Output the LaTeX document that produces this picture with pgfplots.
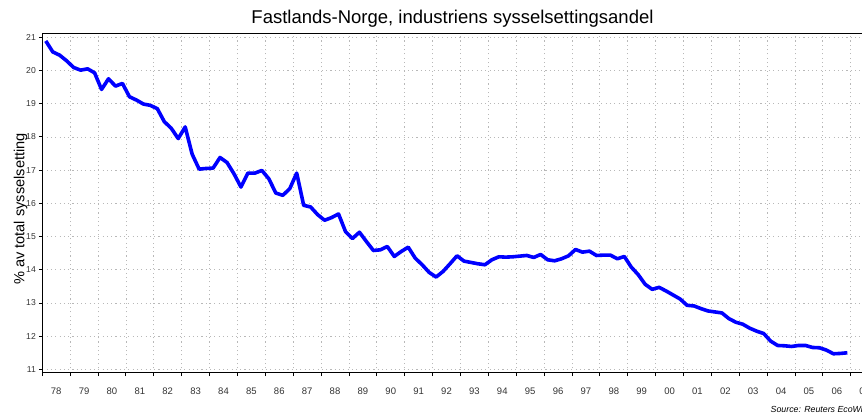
\documentclass[border=0pt]{standalone}
\usepackage{fontspec}
\setmainfont{Liberation Sans}
\usepackage{pgfplots}
\pgfplotsset{compat=1.18}

\definecolor{ticktext}{HTML}{333333}
\definecolor{gridgray}{HTML}{B8B8B8}

\begin{document}
\begin{tikzpicture}[x=1pt,y=1pt]
\begin{axis}[
    at={(42.3pt,41.3pt)}, anchor=south west,
    scale only axis,
    width=837.8pt, height=339.4pt,
    xmin=1978, xmax=2008.05,
    ymin=10.9, ymax=21.12,
    xtick={1978,...,2008},
    x tick label as interval,
    xticklabels={78,79,80,81,82,83,84,85,86,87,88,89,90,91,92,93,94,95,96,97,98,99,00,01,02,03,04,05,06,07},
    ytick={11,...,21},
    xtick pos=bottom, ytick pos=left,
    tick align=outside,
    major tick length=3.5pt,
    every tick/.style={black, line width=0.9pt},
    /pgf/number format/assume math mode=true,
    xticklabel style={font=\fontsize{9.5}{11}\selectfont, text=ticktext, anchor=base, inner sep=0pt, yshift=-18.6pt},
    yticklabel style={font=\fontsize{8.6}{10}\selectfont, text=ticktext, anchor=east, inner sep=0pt, xshift=-2.8pt},
    grid=major,
    major grid style={gridgray, line width=0.8pt, dash pattern=on 1.1pt off 3.2pt},
    axis line style={black, line width=1.3pt},
]
\addplot[color=blue, line width=3.6pt, line join=round] table {
x y
1978.125 20.89
1978.375 20.56
1978.625 20.46
1978.875 20.29
1979.125 20.09
1979.375 20.01
1979.625 20.05
1979.875 19.93
1980.125 19.43
1980.375 19.75
1980.625 19.53
1980.875 19.61
1981.125 19.21
1981.375 19.11
1981.625 18.99
1981.875 18.95
1982.125 18.85
1982.375 18.46
1982.625 18.26
1982.875 17.95
1983.125 18.30
1983.375 17.48
1983.625 17.03
1983.875 17.05
1984.125 17.06
1984.375 17.38
1984.625 17.23
1984.875 16.89
1985.125 16.49
1985.375 16.91
1985.625 16.91
1985.875 16.99
1986.125 16.74
1986.375 16.31
1986.625 16.24
1986.875 16.44
1987.125 16.91
1987.375 15.94
1987.625 15.89
1987.875 15.66
1988.125 15.49
1988.375 15.57
1988.625 15.68
1988.875 15.15
1989.125 14.94
1989.375 15.13
1989.625 14.85
1989.875 14.58
1990.125 14.60
1990.375 14.70
1990.625 14.40
1990.875 14.55
1991.125 14.68
1991.375 14.35
1991.625 14.15
1991.875 13.92
1992.125 13.78
1992.375 13.95
1992.625 14.18
1992.875 14.42
1993.125 14.26
1993.375 14.22
1993.625 14.18
1993.875 14.15
1994.125 14.30
1994.375 14.39
1994.625 14.38
1994.875 14.39
1995.125 14.41
1995.375 14.43
1995.625 14.37
1995.875 14.46
1996.125 14.30
1996.375 14.27
1996.625 14.33
1996.875 14.42
1997.125 14.61
1997.375 14.53
1997.625 14.56
1997.875 14.43
1998.125 14.44
1998.375 14.44
1998.625 14.33
1998.875 14.40
1999.125 14.08
1999.375 13.85
1999.625 13.56
1999.875 13.41
2000.125 13.47
2000.375 13.36
2000.625 13.24
2000.875 13.12
2001.125 12.93
2001.375 12.91
2001.625 12.83
2001.875 12.76
2002.125 12.73
2002.375 12.70
2002.625 12.53
2002.875 12.42
2003.125 12.36
2003.375 12.24
2003.625 12.15
2003.875 12.08
2004.125 11.85
2004.375 11.72
2004.625 11.71
2004.875 11.69
2005.125 11.72
2005.375 11.72
2005.625 11.66
2005.875 11.65
2006.125 11.58
2006.375 11.47
2006.625 11.48
2006.875 11.50
};
\end{axis}
% title, axis label and source line
\node[anchor=base, font=\fontsize{18.5}{22}\selectfont] at (452.5,390) {Fastlands-Norge, industriens sysselsettingsandel};
\node[rotate=90, anchor=base, font=\fontsize{14.6}{17}\selectfont] at (24.5,205) {\% av total sysselsetting};
\node[anchor=base west, inner sep=0pt, font=\fontsize{8.8}{10}\selectfont\itshape] at (770.5,1.7) {Source: Reuters EcoWin};
\pgfresetboundingbox
\useasboundingbox (0,0) rectangle (862,414);
\end{tikzpicture}
\end{document}
